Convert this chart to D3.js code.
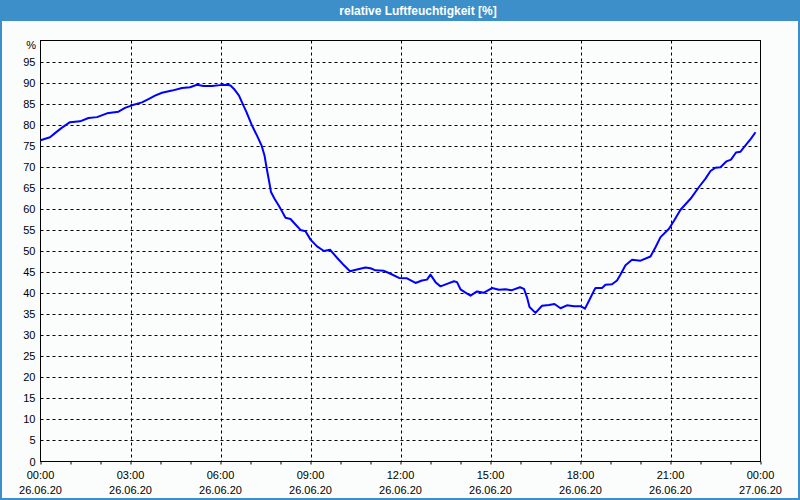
<!DOCTYPE html>
<html><head><meta charset="utf-8">
<script src="https://cdn.jsdelivr.net/npm/d3@7"></script>
<style>
html,body{margin:0;padding:0;background:#fbfdfc;}
svg{display:block;}
</style></head>
<body>
<script>
const title = "relative Luftfeuchtigkeit [%]";
const yUnit = "%";
const yTicks = [0,5,10,15,20,25,30,35,40,45,50,55,60,65,70,75,80,85,90,95];
const xTickLabels = [
  ["00:00","26.06.20"],["03:00","26.06.20"],["06:00","26.06.20"],["09:00","26.06.20"],
  ["12:00","26.06.20"],["15:00","26.06.20"],["18:00","26.06.20"],["21:00","26.06.20"],["00:00","27.06.20"]
];
const times = ["00:00","00:19","00:29","00:43","00:59","01:19","01:36","01:53","02:13","02:36","02:49",
"03:03","03:23","03:36","03:49","04:03","04:23","04:43","04:59","05:13","05:26","05:43","05:59",
"06:13","06:20","06:27","06:37","06:43","06:52","07:03","07:13","07:22","07:28","07:32","07:37","07:41","07:48","07:57",
"08:04","08:10","08:20","08:30","08:40","08:50","09:00","09:13","09:27","09:39","09:53",
"10:07","10:19","10:33","10:50","11:00","11:10","11:27","11:40","11:57","12:13","12:30","12:43","12:53",
"13:00","13:10","13:20","13:33","13:47","13:53","14:00","14:10","14:20","14:33","14:47",
"15:03","15:17","15:30","15:43","15:59","16:07","16:13","16:18","16:30","16:43","16:57",
"17:08","17:20","17:33","17:47","18:00","18:09","18:17","18:27","18:30","18:43","18:50",
"19:03","19:13","19:20","19:30","19:43","20:00","20:20","20:30","20:40","20:57",
"21:07","21:20","21:40","21:57","22:10","22:20","22:30","22:40","22:52","23:01","23:11","23:20","23:30","23:41","23:50"];
const humidity = [76.3,77.0,78.0,79.3,80.6,80.8,81.6,81.8,82.7,83.1,84.0,
84.6,85.3,86.1,86.9,87.6,88.1,88.7,88.9,89.5,89.2,89.2,89.4,
89.5,89.3,88.5,86.9,85.3,83.0,79.8,77.4,75.1,72.7,69.9,66.7,64.0,62.4,60.7,
59.2,57.9,57.6,56.3,55.0,54.7,52.7,51.1,50.0,50.3,48.4,
46.6,45.2,45.6,46.1,45.9,45.4,45.3,44.6,43.6,43.5,42.4,43.0,43.2,
44.4,42.6,41.6,42.2,42.8,42.6,40.9,40.1,39.4,40.4,40.1,
41.2,40.8,40.9,40.7,41.4,41.0,39.0,36.7,35.3,37.0,37.2,
37.4,36.4,37.1,36.9,36.9,36.3,38.2,40.6,41.2,41.2,42.0,
42.1,43.0,44.4,46.6,47.9,47.7,48.7,50.9,53.3,55.3,
57.2,59.8,62.4,65.2,67.2,69.0,69.8,69.9,71.3,71.7,73.4,73.6,75.1,76.7,78.2];

(function(){
const W = 800, H = 500;
const svg = d3.select("body").append("svg").attr("width", W).attr("height", H);
const font = "'Liberation Sans', Arial, sans-serif";

// window frame
svg.append("rect").attr("x",0).attr("y",0).attr("width",W).attr("height",H).attr("fill","#fbfdfc");
svg.append("rect").attr("x",0).attr("y",0).attr("width",W).attr("height",21).attr("fill","#3c8fc8");
svg.append("rect").attr("x",1).attr("y",1).attr("width",W-2).attr("height",H-2)
  .attr("fill","none").attr("stroke","#3c8fc8").attr("stroke-width",2);
svg.append("text").attr("x",418).attr("y",14.5).attr("text-anchor","middle")
  .attr("fill","#ffffff").attr("font-family",font).attr("font-weight","bold").attr("font-size","12px")
  .text(title);

const pLeft = 40.5, pRight = 760.5, pTop = 40.5, pBottom = 461.5;
const parse = d3.timeParse("%Y-%m-%d %H:%M");
const t0 = parse("2020-06-26 00:00"), t1 = parse("2020-06-27 00:00");
const x = d3.scaleTime().domain([t0, t1]).range([pLeft, pRight]);
const y = d3.scaleLinear().domain([0, 100]).range([pBottom, pTop]);

const data = times.map((t,i)=>({t: parse("2020-06-26 " + t), v: humidity[i]}));

const g = svg.append("g");
// horizontal grid
g.selectAll("line.hg").data(yTicks.filter(d=>d>0)).enter().append("line")
  .attr("x1", pLeft).attr("x2", pRight)
  .attr("y1", d=>Math.round(y(d))+0.5).attr("y2", d=>Math.round(y(d))+0.5)
  .attr("stroke","#000").attr("stroke-width",1).attr("stroke-dasharray","3,3");
// vertical grid every 3h
const majors = d3.timeHour.every(3).range(t0, t1).filter((d,i)=>i>0);
g.selectAll("line.vg").data(majors).enter().append("line")
  .attr("x1", d=>Math.round(x(d))+0.5).attr("x2", d=>Math.round(x(d))+0.5)
  .attr("y1", pTop).attr("y2", pBottom)
  .attr("stroke","#000").attr("stroke-width",1).attr("stroke-dasharray","3,3");

// x axis with hourly ticks
const xAxis = d3.axisBottom(x).ticks(d3.timeHour.every(1)).tickSize(3).tickFormat("");
const xa = svg.append("g").attr("transform",`translate(0,${pBottom})`).call(xAxis);
xa.select(".domain").remove();
xa.selectAll("line").attr("stroke","#000");

// y labels
const yAxis = d3.axisLeft(y).tickValues(yTicks).tickSize(0).tickPadding(5);
const ya = svg.append("g").attr("transform",`translate(${pLeft},0)`).call(yAxis);
ya.select(".domain").remove();
ya.selectAll("text").attr("font-family",font).attr("font-size","11px").attr("fill","#000");

svg.append("text").attr("x",36).attr("y",49).attr("text-anchor","end")
  .attr("font-family",font).attr("font-size","11px").text(yUnit);

// x labels
const labelTimes = d3.timeHour.every(3).range(t0, d3.timeHour.offset(t1,1));
labelTimes.forEach((d,i)=>{
  const tx = x(d);
  svg.append("text").attr("x",tx).attr("y",479).attr("text-anchor","middle")
    .attr("font-family",font).attr("font-size","11px").text(xTickLabels[i][0]);
  svg.append("text").attr("x",tx).attr("y",494).attr("text-anchor","middle")
    .attr("font-family",font).attr("font-size","11px").text(xTickLabels[i][1]);
});

// plot frame
svg.append("rect").attr("x",pLeft).attr("y",pTop).attr("width",pRight-pLeft).attr("height",pBottom-pTop)
  .attr("fill","none").attr("stroke","#000").attr("stroke-width",1);

// data line
const line = d3.line().x(d=>x(d.t)).y(d=>y(d.v));
svg.append("path").datum(data).attr("d",line)
  .attr("fill","none").attr("stroke","#0000ff").attr("stroke-width",2).attr("stroke-linejoin","round");
})();
</script>
</body></html>
